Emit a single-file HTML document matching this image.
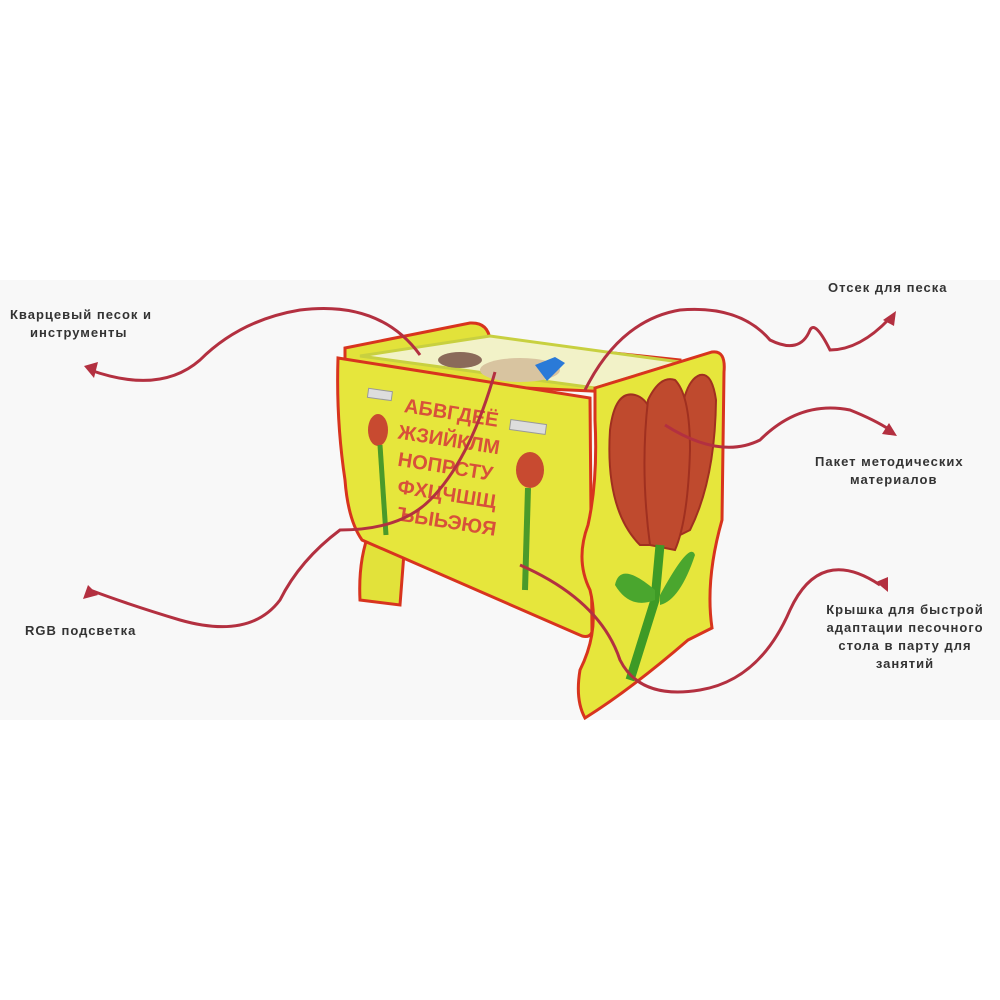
<!DOCTYPE html>
<html><head><meta charset="utf-8"><style>
html,body{margin:0;padding:0;background:#fff;}
body{width:1000px;height:1000px;position:relative;overflow:hidden;font-family:"Liberation Sans",sans-serif;}
.t{position:absolute;font-size:13px;font-weight:bold;color:#333;letter-spacing:1px;line-height:18px;}
</style></head><body>
<div style="position:absolute;left:0;top:280px;width:1000px;height:440px;background:#f8f8f8;"></div>
<svg width="1000" height="1000" style="position:absolute;left:0;top:0">
<path d="M345,348 L470,323 Q488,322 490,340 L680,360 L680,395 L345,380 Z" fill="#e2e23a" stroke="#d8341e" stroke-width="3"/>
<path d="M360,356 L490,336 L680,362 L595,388 Z" fill="#f2f2c8" stroke="#c8d040" stroke-width="3"/>
<ellipse cx="460" cy="360" rx="22" ry="8" fill="#8a6a5a"/>
<ellipse cx="520" cy="370" rx="40" ry="12" fill="#d8c4a0"/>
<path d="M535,365 l20,-8 l10,6 l-18,18 z" fill="#2a7ad8"/>
<path d="M370,530 L405,540 L400,605 L360,600 Q358,560 370,530 Z" fill="#e2e23a" stroke="#d8341e" stroke-width="3"/>
<path d="M338,358 L590,398 L592,632 Q590,638 582,636 L362,540 Q348,520 345,480 Q336,420 338,358 Z" fill="#e6e63c" stroke="#d8341e" stroke-width="3"/>
<rect x="368" y="390" width="24" height="9" fill="#ddd" stroke="#999" transform="rotate(8 380 394)"/>
<rect x="510" y="422" width="36" height="10" fill="#ddd" stroke="#999" transform="rotate(8 528 427)"/>
<g fill="#d8503a" font-family="Liberation Sans" font-weight="bold" font-size="20" transform="rotate(9 450 470)">
<text x="395" y="420">АБВГДЕЁ</text><text x="393" y="447">ЖЗИЙКЛМ</text><text x="397" y="474">НОПРСТУ</text><text x="401" y="501">ФХЦЧШЩ</text><text x="405" y="528">ЪЫЬЭЮЯ</text></g>
<ellipse cx="378" cy="430" rx="10" ry="16" fill="#c84a30"/>
<path d="M380,445 L386,535" stroke="#4a9a2a" stroke-width="5"/>
<ellipse cx="530" cy="470" rx="14" ry="18" fill="#c84a30"/>
<path d="M528,488 L525,590" stroke="#4a9a2a" stroke-width="6"/>
<path d="M595,388 L712,352 Q726,350 724,372 L722,520 Q705,580 712,628 L688,640 Q630,690 585,718 Q575,700 580,670 Q600,630 590,590 Q575,560 588,525 Q598,480 595,420 Z" fill="#e6e63c" stroke="#d8341e" stroke-width="3"/>
<g fill="#bf4a2e" stroke="#a03020" stroke-width="2">
<path d="M640,545 Q605,510 610,430 Q615,390 635,395 Q655,400 660,450 L665,545 Z"/>
<path d="M690,530 Q715,480 716,400 Q712,372 700,375 Q685,380 680,420 L670,540 Z"/>
<path d="M650,545 Q640,470 648,400 Q660,375 675,380 Q690,395 690,450 Q688,520 675,550 Z"/>
</g>
<path d="M660,545 L655,600 L630,680" stroke="#3e9a26" stroke-width="9" fill="none"/>
<path d="M655,590 Q620,560 615,585 Q630,610 655,600 Z M660,595 Q690,540 695,555 Q680,600 660,605 Z" fill="#4aa62e"/>
<g fill="none" stroke="#b33040" stroke-width="3">
<path d="M420,355 Q380,300 300,310 Q240,320 200,360 Q160,395 90,370"/>
<path d="M495,372 Q470,460 430,500 Q400,530 340,530 Q300,560 280,600 Q250,640 180,620 Q130,605 90,590"/>
<path d="M585,390 Q620,320 680,310 Q740,305 770,340 Q800,355 810,330 Q815,320 830,350 Q860,350 890,318"/>
<path d="M665,425 Q720,460 760,440 Q800,400 850,410 Q875,420 890,430"/>
<path d="M520,565 Q600,600 620,660 Q640,700 700,690 Q760,680 790,610 Q820,545 880,585"/>
</g>
<g fill="#b33040">
<polygon points="84,366 98,362 94,378"/>
<polygon points="83,599 88,585 98,595"/>
<polygon points="896,311 894,326 883,320"/>
<polygon points="897,436 882,434 889,423"/>
<polygon points="888,592 876,582 888,577"/>
</g>
</svg>
<div class="t" style="left:10px;top:306px">Кварцевый песок и</div>
<div class="t" style="left:30px;top:324px">инструменты</div>
<div class="t" style="left:828px;top:279px">Отсек для песка</div>
<div class="t" style="left:815px;top:453px">Пакет методических</div>
<div class="t" style="left:850px;top:471px">материалов</div>
<div class="t" style="left:25px;top:622px">RGB подсветка</div>
<div class="t" style="left:805px;top:601px;width:200px;text-align:center">Крышка для быстрой<br>адаптации песочного<br>стола в парту для<br>занятий</div>
</body></html>
